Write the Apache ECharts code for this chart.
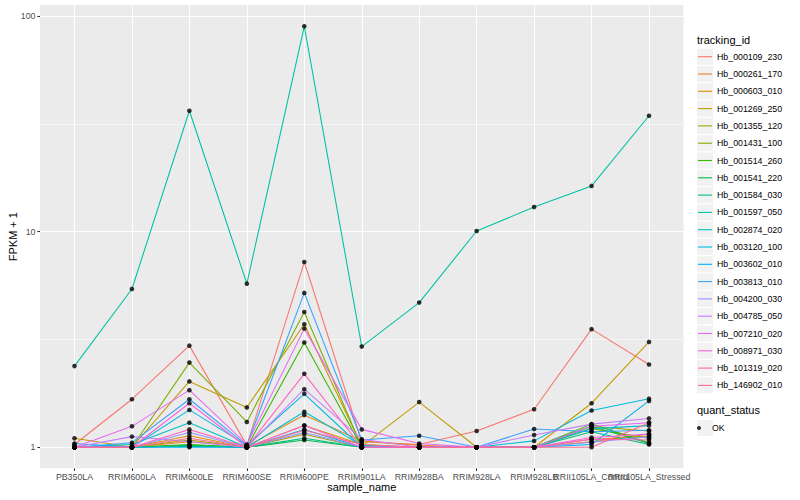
<!DOCTYPE html>
<html><head><meta charset="utf-8">
<script src="https://cdn.jsdelivr.net/npm/echarts@6/dist/echarts.min.js"></script>
<style>html,body{margin:0;padding:0;background:#fff}#c{width:800px;height:500px}</style>
</head><body><div id="c"></div>
<script>
// ---- data ----
const categories = ["PB350LA","RRIM600LA","RRIM600LE","RRIM600SE","RRIM600PE","RRIM901LA","RRIM928BA","RRIM928LA","RRIM928LB","RRII105LA_Control","RRII105LA_Stressed"];
const trackingIds = ["Hb_000109_230","Hb_000261_170","Hb_000603_010","Hb_001269_250","Hb_001355_120","Hb_001431_100","Hb_001514_260","Hb_001541_220","Hb_001584_030","Hb_001597_050","Hb_002874_020","Hb_003120_100","Hb_003602_010","Hb_003813_010","Hb_004200_030","Hb_004785_050","Hb_007210_020","Hb_008971_030","Hb_101319_020","Hb_146902_010"];
const hb000109_230 = [1.03, 1.67, 2.96, 1.02, 7.23, 1.06, 1.03, 1.19, 1.50, 3.53, 2.42];
const hb000261_170 = [1.00, 1.00, 1.06, 1.01, 1.41, 1.07, 1.02, 1.00, 1.00, 1.09, 1.12];
const hb000603_010 = [1.00, 1.00, 1.13, 1.00, 1.26, 1.03, 1.00, 1.00, 1.00, 1.06, 1.15];
const hb001269_250 = [1.10, 1.00, 2.02, 1.53, 3.72, 1.01, 1.62, 1.00, 1.00, 1.60, 3.08];
const hb001355_120 = [1.00, 1.00, 1.08, 1.00, 1.15, 1.00, 1.00, 1.00, 1.00, 1.25, 1.19];
const hb001431_100 = [1.00, 1.00, 2.47, 1.31, 4.24, 1.00, 1.00, 1.00, 1.00, 1.22, 1.10];
const hb001514_260 = [1.00, 1.00, 1.03, 1.00, 3.06, 1.00, 1.00, 1.00, 1.00, 1.28, 1.05];
const hb001541_220 = [1.00, 1.00, 1.02, 1.00, 1.08, 1.00, 1.00, 1.00, 1.00, 1.25, 1.04];
const hb001584_030 = [1.00, 1.00, 1.01, 1.00, 1.10, 1.00, 1.00, 1.00, 1.00, 1.18, 1.03];
const hb001597_050 = [2.38, 5.42, 36.4, 5.74, 89.7, 2.93, 4.69, 10.07, 13.0, 16.3, 34.5];
const hb002874_020 = [1.00, 1.03, 1.30, 1.00, 1.46, 1.02, 1.00, 1.00, 1.00, 1.22, 1.26];
const hb003120_100 = [1.04, 1.00, 1.49, 1.02, 1.77, 1.00, 1.00, 1.00, 1.07, 1.48, 1.68];
const hb003602_010 = [1.00, 1.00, 1.00, 1.00, 1.21, 1.00, 1.00, 1.00, 1.00, 1.03, 1.64];
const hb003813_010 = [1.00, 1.05, 1.67, 1.02, 5.20, 1.08, 1.13, 1.00, 1.215, 1.18, 1.20];
const hb004200_030 = [1.00, 1.00, 1.17, 1.00, 1.17, 1.00, 1.00, 1.00, 1.00, 1.055, 1.12];
const hb004785_050 = [1.00, 1.12, 1.06, 1.00, 1.86, 1.09, 1.00, 1.00, 1.14, 1.28, 1.36];
const hb007210_020 = [1.00, 1.25, 1.84, 1.03, 3.55, 1.21, 1.04, 1.00, 1.00, 1.25, 1.30];
const hb008971_030 = [1.00, 1.00, 1.60, 1.00, 1.26, 1.00, 1.00, 1.00, 1.00, 1.11, 1.15];
const hb101319_020 = [1.00, 1.00, 1.21, 1.00, 2.19, 1.00, 1.00, 1.00, 1.00, 1.09, 1.08];
const hb146902_010 = [1.00, 1.00, 1.10, 1.00, 1.20, 1.03, 1.00, 1.00, 1.00, 1.00, 1.30];
const seriesValues = [hb000109_230, hb000261_170, hb000603_010, hb001269_250, hb001355_120, hb001431_100, hb001514_260, hb001541_220, hb001584_030, hb001597_050, hb002874_020, hb003120_100, hb003602_010, hb003813_010, hb004200_030, hb004785_050, hb007210_020, hb008971_030, hb101319_020, hb146902_010];
const quantStatus = ["OK"];
const yTickValues = [1, 10, 100];
const yMinorValues = [3.1623, 31.623];

// ---- styles ----
const colors = ["#F8766D","#EA8331","#D89000","#C09B00","#A3A500","#7CAE00","#39B600","#00BB4E","#00BF7D","#00C1A3","#00BFC4","#00BAE0","#00B0F6","#35A2FF","#9590FF","#C77CFF","#E76BF3","#FA62DB","#FF62BC","#FF6C91"];
const FONT = '"Liberation Sans", Arial, Helvetica, sans-serif';
const catIdx = categories.map((c, i) => i);
const evenIdx = catIdx.filter(i => i % 2 === 0);
const oddIdx = catIdx.filter(i => i % 2 === 1);
const yMin = 0.7985, yMax = 112.6;
const legendTop = 48.05, legendStep = 17.3;

const lineSeries = trackingIds.map((id, i) => ({
  type: 'line', name: id, xAxisIndex: 0, yAxisIndex: 0,
  data: categories.map((c, j) => [j, seriesValues[i][j]]),
  symbol: 'none', showSymbol: false, silent: true, animation: false,
  itemStyle: { color: colors[i] },
  lineStyle: { color: colors[i], width: 1.07 },
  z: 2
}));
const pointData = [];
seriesValues.forEach(vals => vals.forEach((v, j) => pointData.push([j, v])));
const pointSeries = {
  type: 'scatter', name: quantStatus[0], data: pointData, xAxisIndex: 0, yAxisIndex: 0,
  symbol: 'circle', symbolSize: 4.6, itemStyle: { color: '#000' },
  silent: true, animation: false, z: 3
};

const keyRects = [];
trackingIds.forEach((id, i) => {
  const cy = legendTop + legendStep / 2 + legendStep * i;
  keyRects.push({ type: 'rect', left: 697, top: cy - 8, shape: { width: 16, height: 16 }, style: { fill: '#F2F2F2' }, z: 0, silent: true });
});
keyRects.push({ type: 'rect', left: 697, top: 428 - 8, shape: { width: 16, height: 16 }, style: { fill: '#F2F2F2' }, z: 0, silent: true });
keyRects.push({ type: 'text', left: 697, top: 34, style: { text: 'tracking_id', fontSize: 11, fill: '#000', fontFamily: FONT }, z: 5 });
keyRects.push({ type: 'text', left: 697, top: 404, style: { text: 'quant_status', fontSize: 11, fill: '#000', fontFamily: FONT }, z: 5 });

const xLabelStyle = { fontSize: 8.8, color: '#4D4D4D', margin: 4.5, hideOverlap: false, fontFamily: FONT, formatter: v => categories[Math.round(v)] };

const option = {
  animation: false,
  backgroundColor: '#fff',
  textStyle: { fontFamily: FONT },
  grid: { left: 40, right: 116.5, top: 5, bottom: 31.7, show: true, backgroundColor: '#EBEBEB', borderWidth: 0, containLabel: false, outerBoundsMode: 'none' },
  xAxis: [{
    type: 'value', min: -0.6, max: 10.6, position: 'bottom',
    name: 'sample_name', nameLocation: 'middle', nameGap: 13.5, nameMoveOverlap: false,
    nameTextStyle: { fontSize: 11, color: '#000', fontFamily: FONT },
    axisLine: { show: false, onZero: false },
    axisTick: { show: true, length: 2.7, lineStyle: { color: '#333333', width: 1.07 }, customValues: catIdx },
    axisLabel: Object.assign({ customValues: evenIdx }, xLabelStyle),
    splitLine: { show: true, lineStyle: { color: '#FFFFFF', width: 1.07 } },
    minorSplitLine: { show: false }
  }, {
    type: 'value', min: -0.6, max: 10.6, position: 'bottom', offset: 0,
    axisLine: { show: false, onZero: false },
    axisTick: { show: false, customValues: oddIdx },
    axisLabel: Object.assign({ customValues: oddIdx }, xLabelStyle),
    splitLine: { show: false }
  }],
  yAxis: [{
    type: 'log', logBase: 10, min: yMin, max: yMax, position: 'left',
    name: 'FPKM + 1', nameLocation: 'middle', nameGap: 22, nameMoveOverlap: false,
    nameTextStyle: { fontSize: 11, color: '#000', fontFamily: FONT },
    axisLine: { show: false, onZero: false },
    axisTick: { show: true, length: 2.7, lineStyle: { color: '#333333', width: 1.07 }, customValues: yTickValues },
    axisLabel: { customValues: yTickValues, formatter: v => String(Math.round(v)), fontSize: 8.8, color: '#4D4D4D', margin: 4.5, fontFamily: FONT },
    splitLine: { show: true, lineStyle: { color: '#FFFFFF', width: 1.07 } }
  }, {
    type: 'log', logBase: 10, min: yMin, max: yMax, position: 'left',
    axisLine: { show: false, onZero: false },
    axisTick: { show: false, customValues: yMinorValues },
    axisLabel: { show: false, customValues: yMinorValues },
    splitLine: { show: true, lineStyle: { color: '#FFFFFF', width: 0.53 } }
  }],
  legend: [{
    data: trackingIds, orient: 'vertical', left: 698, top: legendTop, padding: 0,
    itemGap: 0, itemWidth: 14, itemHeight: 1.1, itemTextGap: 4.7, icon: 'rect',
    selectedMode: false,
    textStyle: { fontSize: 8.8, color: '#000', lineHeight: legendStep, fontFamily: FONT }
  }, {
    data: quantStatus, orient: 'vertical', left: 697, top: 428 - legendStep / 2, padding: 0,
    itemGap: 0, itemWidth: 16, itemHeight: 4, itemTextGap: 3.7, icon: 'circle',
    selectedMode: false,
    textStyle: { fontSize: 8.8, color: '#000', lineHeight: legendStep, fontFamily: FONT }
  }],
  graphic: keyRects,
  series: lineSeries.concat([pointSeries])
};
const chart = echarts.init(document.getElementById('c'), null, { renderer: 'svg' });
chart.setOption(option);
</script>
</body></html>
